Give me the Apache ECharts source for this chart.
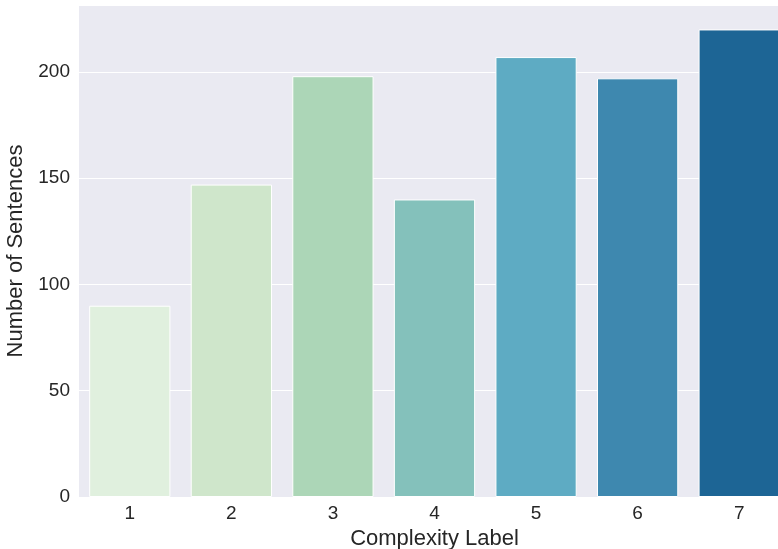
<!DOCTYPE html>
<html><head><meta charset="utf-8">
<script src="https://cdn.jsdelivr.net/npm/echarts@6/dist/echarts.min.js"></script>
<style>html,body{margin:0;padding:0;background:#fff}#c{width:778px;height:549px}</style>
</head><body><div id="c"></div>
<script>
const categories = ['1','2','3','4','5','6','7'];
const counts = [90, 147, 198, 140, 207, 197, 220];
const barColors = ['#E0F0DE','#CFE6CB','#ACD6B7','#84C1BB','#5EABC3','#3E88AF','#1D6595'];
const yTicks = [0, 50, 100, 150, 200];

const chart = echarts.init(document.getElementById('c'), null, {renderer:'canvas'});
const font = '"Liberation Sans", Arial, sans-serif';
chart.setOption({
  animation: false,
  backgroundColor: '#ffffff',
  grid: {left: 79, right: -12, top: 5, bottom: 52, backgroundColor: '#EAEAF2', show: true, borderWidth: 0,
         containLabel: false, outerBoundsMode: 'none'},
  xAxis: {
    type: 'category', data: categories,
    name: 'Complexity Label', nameLocation: 'middle', nameGap: 31,
    nameTextStyle: {fontFamily: font, fontSize: 22, color: '#262626'},
    axisLine: {show: false}, axisTick: {show: false},
    axisLabel: {fontFamily: font, fontSize: 19, color: '#262626', margin: 7},
    splitLine: {show: false}
  },
  yAxis: {
    type: 'value', min: 0, max: 231.5, interval: 50,
    name: 'Number of Sentences', nameLocation: 'middle', nameGap: 49,
    nameTextStyle: {fontFamily: font, fontSize: 22, color: '#262626'},
    axisLine: {show: false}, axisTick: {show: false},
    axisLabel: {fontFamily: font, fontSize: 19, color: '#262626', margin: 9,
      formatter: v => yTicks.includes(v) ? String(v) : ''},
    splitLine: {show: true, lineStyle: {color: '#ffffff', width: 1}}
  },
  series: [{
    type: 'bar', barWidth: '80%',
    data: counts.map((v, i) => ({value: v, itemStyle: {color: barColors[i]}})),
    itemStyle: {borderColor: '#ffffff', borderWidth: 1}
  }]
});
</script></body></html>
